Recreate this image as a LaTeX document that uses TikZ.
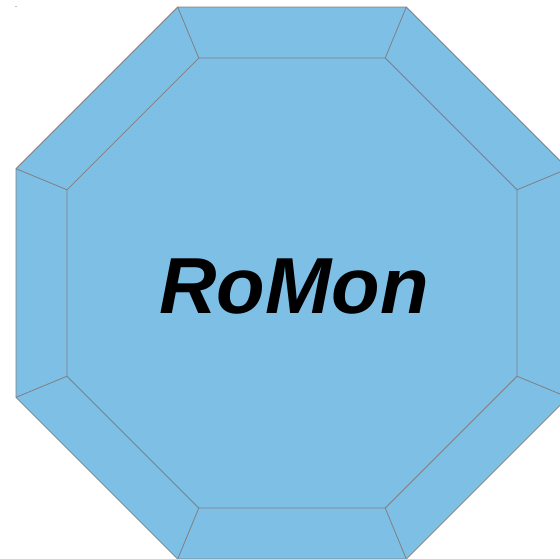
\documentclass[tikz,border=0pt]{standalone}
\usepackage{fontspec}
\setmainfont{Liberation Sans}
\definecolor{facefill}{HTML}{7EBFE6}
\definecolor{edgegray}{HTML}{808080}
\begin{document}
\begin{tikzpicture}[x=1pt,y=-1pt,
  face/.style={fill=facefill,draw=edgegray,line width=0.8pt,line join=miter},
  edge/.style={draw=edgegray,line width=0.8pt}]
\useasboundingbox (0,0) rectangle (560,558);
\clip (0,0) rectangle (560,558);
% octagon centre (292,283), outer apothem 276, inner apothem 225
\def\cx{292}\def\cy{283}
\foreach \i in {1,...,8}{
  \coordinate (o\i) at ({\cx+(276/cos(22.5))*cos(112.5-45*(\i-1))},{\cy-(276/cos(22.5))*sin(112.5-45*(\i-1))});
  \coordinate (n\i) at ({\cx+(225/cos(22.5))*cos(112.5-45*(\i-1))},{\cy-(225/cos(22.5))*sin(112.5-45*(\i-1))});
}
\path[face] (o1)--(o2)--(o3)--(o4)--(o5)--(o6)--(o7)--(o8)--cycle;
\path[face] (n1)--(n2)--(n3)--(n4)--(n5)--(n6)--(n7)--(n8)--cycle;
\foreach \i in {1,...,8}{ \draw[edge] (o\i)--(n\i); }
\fill[edgegray] (16,6.5) circle (0.6);
\node (title) at (294,287) {\fontsize{79.5}{90}\selectfont\bfseries\itshape RoMon};
\end{tikzpicture}
\end{document}
